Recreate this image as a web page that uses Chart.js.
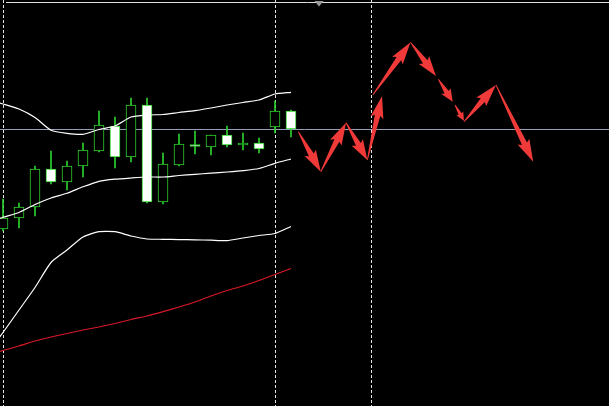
<!DOCTYPE html>
<html>
<head>
<meta charset="utf-8">
<script src="https://cdn.jsdelivr.net/npm/chart.js@4.4.0/dist/chart.umd.min.js"></script>
<style>
  html, body { margin: 0; padding: 0; background: #000; overflow: hidden; }
  #wrap { width: 609px; height: 406px; position: relative; }
</style>
</head>
<body>
<div id="wrap"><canvas id="chart"></canvas></div>
<script>
"use strict"

//candles (bar index 0..18)
const barIndex = [0, 1, 2, 3, 4, 5, 6, 7, 8, 9, 10, 11, 12, 13, 14, 15, 16, 17, 18];
const openPrices = [1977.1, 1978.2, 1979.3, 1983.1, 1981.8, 1983.4, 1984.9, 1987.4, 1984.3, 1989.5, 1979.8, 1983.5, 1985.55, 1985.3, 1986.5, 1985.5, 1985.7, 1987.3, 1988.9];
const highPrices = [1980.1, 1979.7, 1983.4, 1984.9, 1983.9, 1985.7, 1988.9, 1988.3, 1990.2, 1990.2, 1984.7, 1986.6, 1986.9, 1986.5, 1987.4, 1986.7, 1986.2, 1989.9, 1989.0];
const lowPrices = [1976.9, 1977.2, 1978.4, 1981.6, 1981.0, 1982.3, 1984.8, 1983.2, 1983.8, 1979.7, 1979.6, 1983.4, 1984.6, 1984.5, 1985.3, 1985.0, 1984.7, 1986.7, 1986.3];
const closePrices = [1978.2, 1979.3, 1983.1, 1981.8, 1983.4, 1985.0, 1987.5, 1984.3, 1989.5, 1979.8, 1983.6, 1985.6, 1985.35, 1986.5, 1985.5, 1985.7, 1985.1, 1988.9, 1987.1];

//indicator lines (start one bar before the first candle)
const lineIndex = [-1, 0, 1, 2, 3, 4, 5, 6, 7, 8, 9, 10, 11, 12, 13, 14, 15, 16, 17, 18];
const upperBand = [1990.05, 1989.6, 1989.1, 1988.25, 1986.97, 1986.66, 1986.57, 1987.05, 1987.4, 1988.3, 1988.5, 1988.55, 1988.75, 1988.94, 1989.2, 1989.5, 1989.75, 1990.0, 1990.6, 1990.77];
const middleBand = [1977.75, 1978.27, 1978.75, 1979.55, 1980.2, 1980.68, 1981.32, 1981.87, 1982.08, 1982.2, 1982.3, 1982.3, 1982.45, 1982.57, 1982.68, 1982.8, 1982.94, 1983.15, 1983.67, 1984.1];
const lowerBand = [1964.6, 1966.75, 1969.0, 1971.25, 1973.75, 1975.0, 1976.3, 1976.83, 1976.83, 1976.4, 1976.1, 1976.07, 1976.04, 1976.02, 1975.98, 1975.94, 1976.2, 1976.45, 1976.65, 1977.35];
const slowMA = [1964.5, 1964.95, 1965.4, 1965.9, 1966.3, 1966.65, 1967.0, 1967.3, 1967.65, 1968.05, 1968.4, 1968.83, 1969.3, 1969.8, 1970.4, 1970.95, 1971.4, 1971.95, 1972.55, 1973.15];

//forecast arrows
const arrowFromIdx = [18.46, 19.86, 21.44, 22.77, 23.11, 25.47, 27.21, 28.25, 28.81, 30.81];
const arrowFromPrice = [1986.83, 1982.83, 1987.73, 1984.0, 1990.5, 1995.77, 1992.07, 1989.5, 1987.83, 1991.5];
const arrowToIdx = [19.86, 21.44, 22.77, 23.69, 25.47, 27.06, 28.11, 28.81, 30.81, 33.14];
const arrowToPrice = [1982.83, 1987.73, 1984.0, 1990.4, 1995.77, 1992.4, 1989.83, 1987.93, 1991.5, 1983.83];

//other objects
const separatorIndex = [0, 17, 23];
const levelPrice = 1987.05;
const shiftMarkerIndex = 19.75;

const candleGreen = "rgb(45, 210, 45)";
const arrowRed = "rgb(240, 58, 58)";

function drawArrow(ctx, x0, y0, x1, y1) {
  const dx = x1 - x0;
  const dy = y1 - y0;
  const len = Math.hypot(dx, dy);
  const ux = dx / len, uy = dy / len;
  const nx = -uy, ny = ux;
  const head = Math.min(20, len * 0.42);
  const half = Math.min(6.5, head * 0.4 + 1);
  const shaft = Math.min(2.8, half * 0.45);
  const sweep = head * 0.12;
  const pts = [
    [0, -0.4], [len - head, -shaft], [len - head - sweep, -half], [len, 0],
    [len - head - sweep, half], [len - head, shaft], [0, 0.4]
  ];
  ctx.beginPath();
  pts.forEach(([u, v], i) => {
    const px = x0 + ux * u + nx * v;
    const py = y0 + uy * u + ny * v;
    if (i === 0) ctx.moveTo(px, py); else ctx.lineTo(px, py);
  });
  ctx.closePath();
  ctx.fill();
}

const overlayPlugin = {
  id: "overlay",
  beforeDatasetsDraw(chart) {
    const ctx = chart.ctx;
    const xs = chart.scales.x;
    const ys = chart.scales.y;
    ctx.save();
    ctx.fillStyle = "#000";
    ctx.fillRect(0, 0, chart.width, chart.height);
    //period separators
    ctx.strokeStyle = "#e6e6e6";
    ctx.lineWidth = 1;
    ctx.setLineDash([3, 2]);
    for (let s of separatorIndex) {
      let px = Math.round(xs.getPixelForValue(s)) + 0.5;
      ctx.beginPath();
      ctx.moveTo(px, 0);
      ctx.lineTo(px, chart.height);
      ctx.stroke();
    }
    ctx.setLineDash([]);
    //horizontal level
    let py = Math.floor(ys.getPixelForValue(levelPrice)) + 0.5;
    ctx.strokeStyle = "rgb(150, 156, 186)";
    ctx.beginPath();
    ctx.moveTo(0, py);
    ctx.lineTo(chart.width, py);
    ctx.stroke();
    ctx.restore();
  },
  afterDatasetsDraw(chart) {
    const ctx = chart.ctx;
    const xs = chart.scales.x;
    const ys = chart.scales.y;
    ctx.save();
    ctx.fillStyle = arrowRed;
    for (let i = 0; i < arrowFromIdx.length; i++) {
      drawArrow(ctx,
        xs.getPixelForValue(arrowFromIdx[i]), ys.getPixelForValue(arrowFromPrice[i]),
        xs.getPixelForValue(arrowToIdx[i]), ys.getPixelForValue(arrowToPrice[i]));
    }
    //window top border and shift marker
    ctx.strokeStyle = "#e0e0e0";
    ctx.lineWidth = 1;
    ctx.beginPath();
    ctx.moveTo(6, 2.5);
    ctx.lineTo(chart.width, 2.5);
    ctx.stroke();
    let mx = xs.getPixelForValue(shiftMarkerIndex);
    ctx.fillStyle = "#9a9a9a";
    ctx.beginPath();
    ctx.moveTo(mx - 4.5, 1);
    ctx.lineTo(mx + 4.5, 1);
    ctx.lineTo(mx, 6.5);
    ctx.closePath();
    ctx.fill();
    ctx.restore();
  }
};

function lineData(values) {
  return lineIndex.map((idx, i) => ({ x: idx, y: values[i] }));
}

const bodyData = barIndex.map((idx, i) => ({ x: idx, y: [openPrices[i], closePrices[i]] }));
const bodyFill = barIndex.map((idx, i) => closePrices[i] >= openPrices[i] ? "#000" : "#fff");
const wickData = barIndex.map((idx, i) => ({ x: idx, y: [lowPrices[i], highPrices[i]] }));

const ctx = document.getElementById("chart").getContext("2d");

const priceChart = new Chart(ctx, {
  type: "bar",
  data: {
    datasets: [{
      type: "line",
      label: "Upper band",
      data: lineData(upperBand),
      borderColor: "#fff",
      borderWidth: 1.2,
      pointRadius: 0,
      tension: 0.2
    }, {
      type: "line",
      label: "Middle band",
      data: lineData(middleBand),
      borderColor: "#fff",
      borderWidth: 1.2,
      pointRadius: 0,
      tension: 0.2
    }, {
      type: "line",
      label: "Lower band",
      data: lineData(lowerBand),
      borderColor: "#fff",
      borderWidth: 1.2,
      pointRadius: 0,
      tension: 0.2
    }, {
      type: "line",
      label: "Slow MA",
      data: lineData(slowMA),
      borderColor: "rgb(215, 25, 38)",
      borderWidth: 1.2,
      pointRadius: 0,
      tension: 0.2
    }, {
      label: "Body",
      data: bodyData,
      backgroundColor: bodyFill,
      borderColor: candleGreen,
      borderWidth: 1,
      borderSkipped: false,
      barThickness: 10,
      grouped: false
    }, {
      label: "Wick",
      data: wickData,
      backgroundColor: candleGreen,
      borderWidth: 0,
      barThickness: 1,
      grouped: false
    }]
  },
  options: {
    responsive: true,
    maintainAspectRatio: false,
    animation: false,
    layout: { padding: 0 },
    plugins: {
      legend: { display: false },
      tooltip: { enabled: false }
    },
    scales: {
      x: { type: "linear", min: -0.1875, max: 37.875, offset: false, display: false },
      y: { min: 1959.4, max: 2000, display: false }
    }
  },
  plugins: [overlayPlugin]
});
</script>
</body>
</html>
